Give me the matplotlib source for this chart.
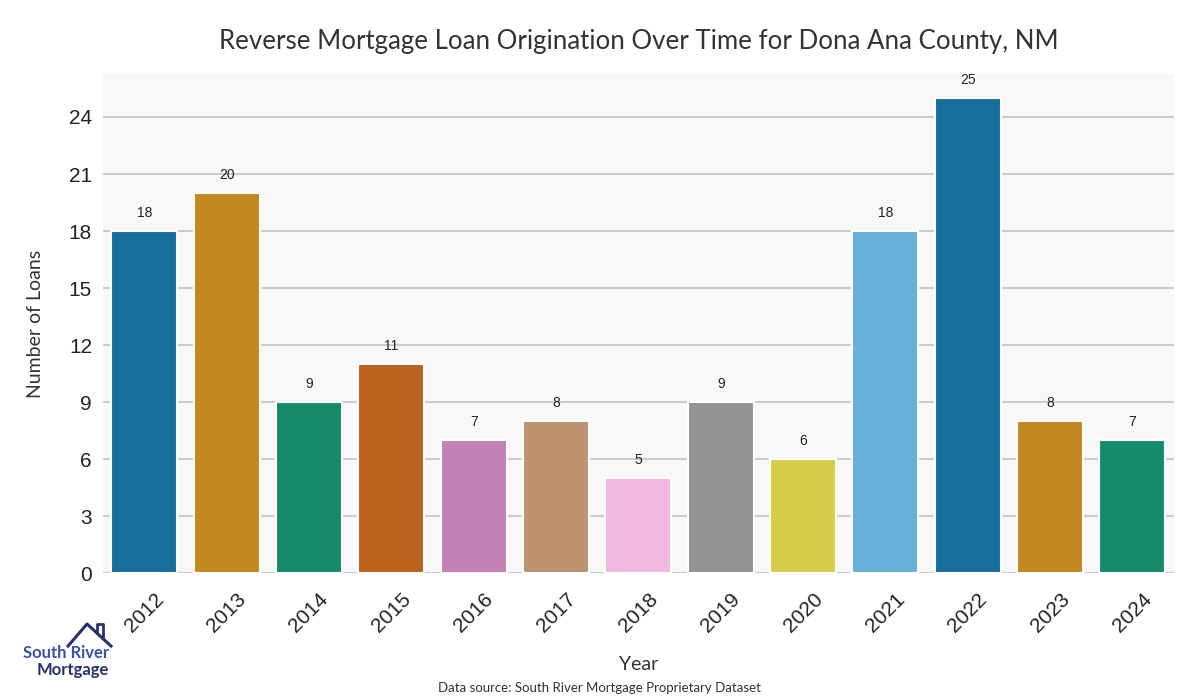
import matplotlib
matplotlib.use("Agg")
import matplotlib.pyplot as plt
import seaborn as sns
import pandas as pd
from matplotlib.lines import Line2D

years = ["2012", "2013", "2014", "2015", "2016", "2017", "2018",
         "2019", "2020", "2021", "2022", "2023", "2024"]
loans = [18, 20, 9, 11, 7, 8, 5, 9, 6, 18, 25, 8, 7]
yticks = [0, 3, 6, 9, 12, 15, 18, 21, 24]

title = "Reverse Mortgage Loan Origination Over Time for Dona Ana County, NM"
source = "Data source: South River Mortgage Proprietary Dataset"

df = pd.DataFrame({"Year": years, "Loans": loans})

fig = plt.figure(figsize=(12, 7), dpi=100)
ax = fig.add_axes([0.086, 0.181, 0.892, 0.713])
ax.set_facecolor("#f8f8f8")

sns.barplot(data=df, x="Year", y="Loans", hue="Year", palette="colorblind",
            legend=False, ax=ax, edgecolor="white", linewidth=1.5,
            saturation=0.75, zorder=3)

for i, v in enumerate(loans):
    ax.annotate(str(v), (i, v), xytext=(0, 8), textcoords="offset points",
                ha="center", va="bottom", fontsize=10, color="#222222",
                family="Liberation Sans")

ax.set_ylim(0, 26.25)
ax.set_yticks(yticks)
ax.yaxis.grid(True, color="#cccccc", linewidth=1.5, zorder=0)
ax.xaxis.grid(False)
ax.set_axisbelow(True)
for s in ax.spines.values():
    s.set_visible(False)
ax.tick_params(axis="both", length=0, pad=8)
for lbl in ax.get_yticklabels():
    lbl.set_fontsize(15)
    lbl.set_family("Liberation Sans")
    lbl.set_color("#222222")
ax.set_xticks(range(len(years)))
ax.set_xticklabels(years, rotation=45, ha="center", fontsize=15,
                   family="Liberation Sans", color="#222222")
ax.tick_params(axis="x", pad=12)

ax.set_ylabel("Number of Loans", fontsize=14, family="Lato", color="#333333", labelpad=18)
ax.set_xlabel("Year", fontsize=14, family="Lato", color="#333333", labelpad=14)
ax.set_title(title, fontsize=18.6, family="Lato", color="#333333", pad=18)

fig.text(0.5, 0.017, source, ha="center", va="center", fontsize=9.5,
         family="Lato", color="#333333")

# Logo
fig.text(0.055, 0.067, "South River", ha="center", va="center", fontsize=12,
         family="Lato", fontweight="bold", color="#3f51a3")
fig.text(0.061, 0.043, "Mortgage", ha="center", va="center", fontsize=12,
         family="Lato", fontweight="bold", color="#2a326e")
roof_x = [0.0567, 0.0725, 0.0925]
roof_y = [0.0771, 0.1086, 0.0771]
fig.add_artist(Line2D(roof_x, roof_y, transform=fig.transFigure,
                      color="#2a326e", linewidth=2.2))
fig.add_artist(Line2D([0.0808, 0.0808, 0.0858, 0.0858],
                      [0.0964, 0.1086, 0.1086, 0.0886], transform=fig.transFigure,
                      color="#2a326e", linewidth=2.0))

fig.savefig("out.png", dpi=100, facecolor="white")
